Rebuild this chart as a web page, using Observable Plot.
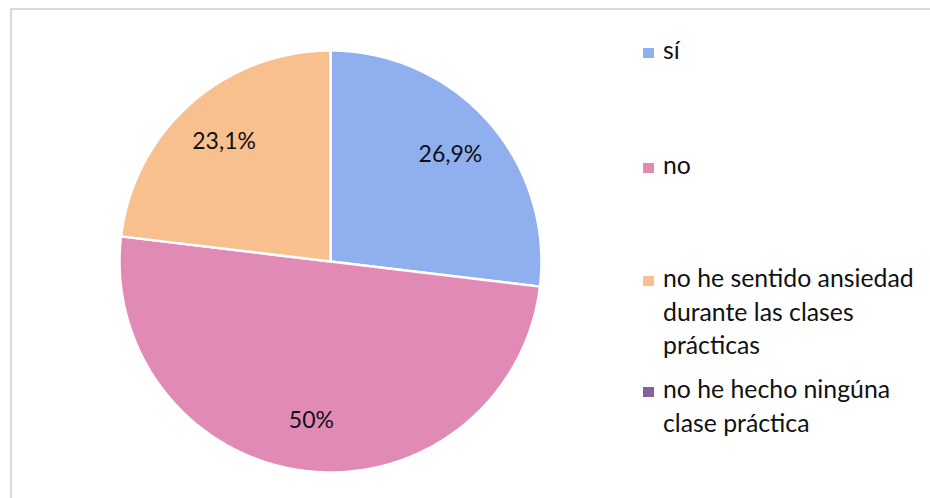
<!DOCTYPE html>
<html>
<head>
<meta charset="utf-8">
<script src="https://cdn.jsdelivr.net/npm/d3@7"></script>
<script src="https://cdn.jsdelivr.net/npm/@observablehq/plot@0.6"></script>
<style>
  html, body { margin: 0; padding: 0; background: #fff; }
  #wrap { position: relative; width: 930px; height: 498px; overflow: hidden; font-family: Lato, "Noto Sans", sans-serif; }
  #frame { position: absolute; left: 10px; top: 8px; width: 960px; height: 540px; border: 2px solid #d9d9d9; box-sizing: border-box; }
  #chart { position: absolute; left: 0; top: 0; }
  .leg { position: absolute; left: 643px; display: flex; align-items: flex-start; }
  .sw { width: 11px; height: 10px; flex: none; }
  .lt { position: absolute; left: 20px; width: 265px; font-size: 24.8px; line-height: 33.5px; color: #111; }
</style>
</head>
<body>
<div id="wrap">
  <div id="frame"></div>
  <div id="chart"></div>
</div>
<script>
const categories = ["sí", "no", "no he sentido ansiedad durante las clases prácticas", "no he hecho ningúna clase práctica"];
const values = [26.9, 50, 23.1, 0];
const valueLabels = ["26,9%", "50%", "23,1%", ""];
const colors = ["#8FAFEF", "#E28AB6", "#F9C08F", "#8064A2"];

const arcs = d3.pie().sort(null).value(d => d)(values);

// Build slice outlines from the pie angles (unit circle, y up)
const pts = [];
arcs.forEach((a, i) => {
  if (a.value <= 0) return;
  const key = categories[i];
  pts.push({key, x: 0, y: 0});
  const n = Math.max(2, Math.ceil((a.endAngle - a.startAngle) / 0.01));
  for (let k = 0; k <= n; k++) {
    const t = a.startAngle + (a.endAngle - a.startAngle) * k / n;
    pts.push({key, x: Math.sin(t), y: Math.cos(t)});
  }
  pts.push({key, x: 0, y: 0});
});

const labelPts = arcs.filter(a => a.value > 0).map(a => {
  const m = (a.startAngle + a.endAngle) / 2;
  const r = 0.76;
  return {x: r * Math.sin(m), y: r * Math.cos(m), text: valueLabels[a.index]};
});

const plot = Plot.plot({
  width: 930,
  height: 498,
  margin: 0,
  x: {domain: [-1, 1], range: [119, 541], axis: null},
  y: {domain: [-1, 1], range: [472, 50], axis: null},
  color: {type: "ordinal", domain: categories, range: colors},
  style: {background: "transparent", fontFamily: "Lato, 'Noto Sans', sans-serif"},
  marks: [
    Plot.line(pts, {x: "x", y: "y", z: "key", fill: "key", stroke: "white", strokeWidth: 2.5, strokeLinejoin: "round"}),
    Plot.text(labelPts, {x: "x", y: "y", text: "text", fontSize: 23, fill: "#111"})
  ]
});
document.getElementById("chart").appendChild(plot);

// Legend
const legTops = [41, 156, 269, 380];
const wrap = document.getElementById("wrap");
categories.forEach((c, i) => {
  const d = document.createElement("div");
  d.className = "leg";
  d.style.top = legTops[i] + "px";
  const sw = document.createElement("div");
  sw.className = "sw";
  sw.style.background = colors[i];
  sw.style.marginTop = "7px";
  const t = document.createElement("div");
  t.className = "lt";
  t.textContent = c;
  t.style.top = "-8px";
  d.appendChild(sw);
  d.appendChild(t);
  wrap.appendChild(d);
});
</script>
</body>
</html>
